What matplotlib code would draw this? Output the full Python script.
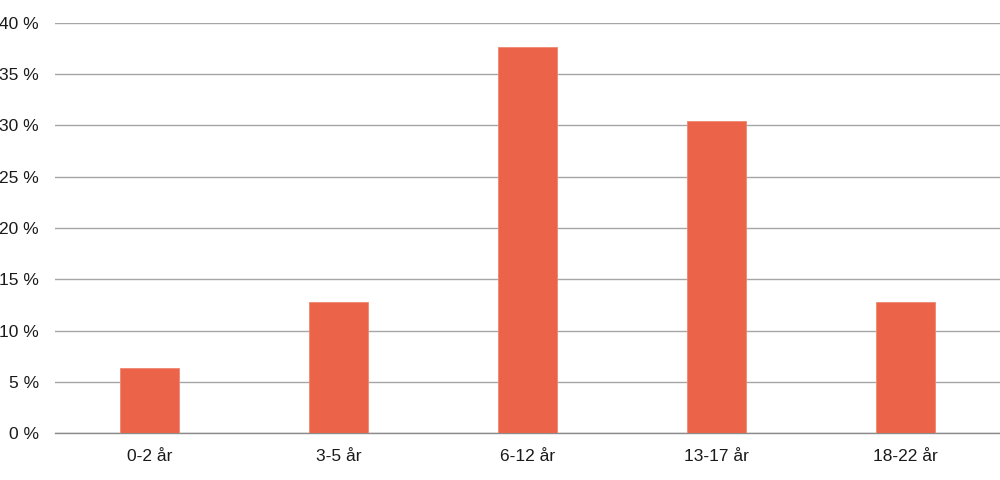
import matplotlib
matplotlib.use("Agg")
import matplotlib.pyplot as plt
from matplotlib.ticker import FuncFormatter

categories = ["0-2 år", "3-5 år", "6-12 år", "13-17 år", "18-22 år"]
values = [6.4, 12.75, 37.65, 30.45, 12.75]
yticks = [0, 5, 10, 15, 20, 25, 30, 35, 40]

plt.rcParams['font.family'] = ['Liberation Sans', 'DejaVu Sans']

fig = plt.figure(figsize=(10, 4.8), dpi=100)
ax = fig.add_axes([0.055, 0.0973, 0.945, 0.855])

x = list(range(len(categories)))
ax.bar(x, values, width=0.31, color="#EB6449", edgecolor="#F08670", linewidth=0.6, zorder=3)

ax.set_xlim(-0.5, len(categories) - 0.5)
ax.set_ylim(0, 40)
ax.set_yticks(yticks)
ax.yaxis.set_major_formatter(FuncFormatter(lambda v, p: f"{int(v)} %"))
ax.set_xticks(x)
ax.set_xticklabels(categories)

ax.grid(axis="y", color="#A6A6A6", linewidth=1.0, zorder=0)
for s in ["top", "right", "left"]:
    ax.spines[s].set_visible(False)
ax.spines["bottom"].set_color("#8C8C8C")
ax.spines["bottom"].set_linewidth(1.0)
ax.tick_params(axis="both", length=0, labelsize=12.5, colors="#1a1a1a")
ax.tick_params(axis="x", pad=11)
ax.tick_params(axis="y", pad=11.5)

fig.savefig("out.png", dpi=100, facecolor="white")
